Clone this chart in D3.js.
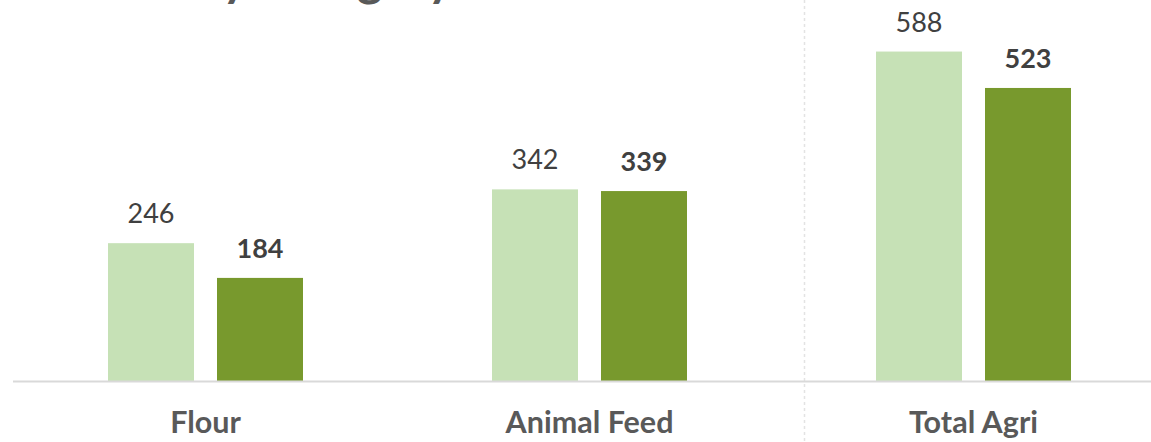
<!DOCTYPE html>
<html>
<head>
<meta charset="utf-8">
<script src="https://cdn.jsdelivr.net/npm/d3@7"></script>
<style>
  html, body { margin: 0; padding: 0; background: #fff; }
  svg { display: block; font-family: "Lato", "Open Sans", sans-serif; }
</style>
</head>
<body>
<svg id="chart" width="1151" height="442"></svg>
<script>
// Volume per category, prior year vs. current year
const categories = ["Flour", "Animal Feed", "Total Agri"];
const seriesKeys = ["prior", "current"];
const priorValues = [246, 342, 588];
const currentValues = [184, 339, 523];
const title = "Volume by Category";

const colors = { prior: "#c6e1b6", current: "#78992d" };

const data = categories.map((c, i) => ({
  category: c,
  prior: priorValues[i],
  current: currentValues[i]
}));

const svg = d3.select("#chart");
const W = 1151, H = 442;
const baseY = 381;

const x = d3.scaleBand()
  .domain(categories)
  .range([13.5, 1165.5])
  .padding(0);

const xSub = d3.scaleBand()
  .domain(seriesKeys)
  .range([-97.5, 97.5])
  .paddingInner(0.211)
  .paddingOuter(0);

const y = d3.scaleLinear()
  .domain([0, 680])
  .range([baseY, 0]);

// Title (sits above the visible area, only descenders show)
svg.append("text")
  .attr("x", 22)
  .attr("y", -4)
  .attr("font-size", 48)
  .attr("font-weight", 700)
  .attr("fill", "#595959")
  .text(title);

// Dotted separator before the total group
const sepX = x("Total Agri") + 23;
svg.append("line")
  .attr("x1", sepX).attr("x2", sepX)
  .attr("y1", 0).attr("y2", H)
  .attr("stroke", "#e3e3e3")
  .attr("stroke-width", 1.5)
  .attr("stroke-dasharray", "3,3");

// Bars
const groups = svg.selectAll("g.group")
  .data(data)
  .join("g")
  .attr("class", "group")
  .attr("transform", d => `translate(${x(d.category) + x.bandwidth() / 2},0)`);

groups.selectAll("rect")
  .data(d => seriesKeys.map(k => ({ key: k, value: d[k] })))
  .join("rect")
  .attr("x", d => xSub(d.key))
  .attr("width", xSub.bandwidth())
  .attr("y", d => y(d.value))
  .attr("height", d => baseY - y(d.value))
  .attr("fill", d => colors[d.key]);

// Value labels
groups.selectAll("text.val")
  .data(d => seriesKeys.map(k => ({ key: k, value: d[k] })))
  .join("text")
  .attr("class", "val")
  .attr("x", d => xSub(d.key) + xSub.bandwidth() / 2)
  .attr("y", d => y(d.value) - 20)
  .attr("text-anchor", "middle")
  .attr("font-size", 27)
  .attr("font-weight", d => d.key === "current" ? 700 : 400)
  .attr("fill", "#404040")
  .text(d => d.value);

// Baseline
svg.append("line")
  .attr("x1", 13).attr("x2", W)
  .attr("y1", baseY + 0.5).attr("y2", baseY + 0.5)
  .attr("stroke", "#d9d9d9")
  .attr("stroke-width", 2);

// Category axis labels
const xAxis = d3.axisBottom(x).tickSize(0).tickPadding(0);
const ax = svg.append("g")
  .attr("transform", `translate(0,${baseY})`)
  .call(xAxis);
ax.select(".domain").remove();
ax.selectAll("text")
  .attr("dy", 0)
  .attr("y", 52)
  .attr("font-size", 30.5)
  .attr("font-weight", 700)
  .attr("font-family", "Lato, 'Open Sans', sans-serif")
  .attr("fill", "#595959");
</script>
</body>
</html>
